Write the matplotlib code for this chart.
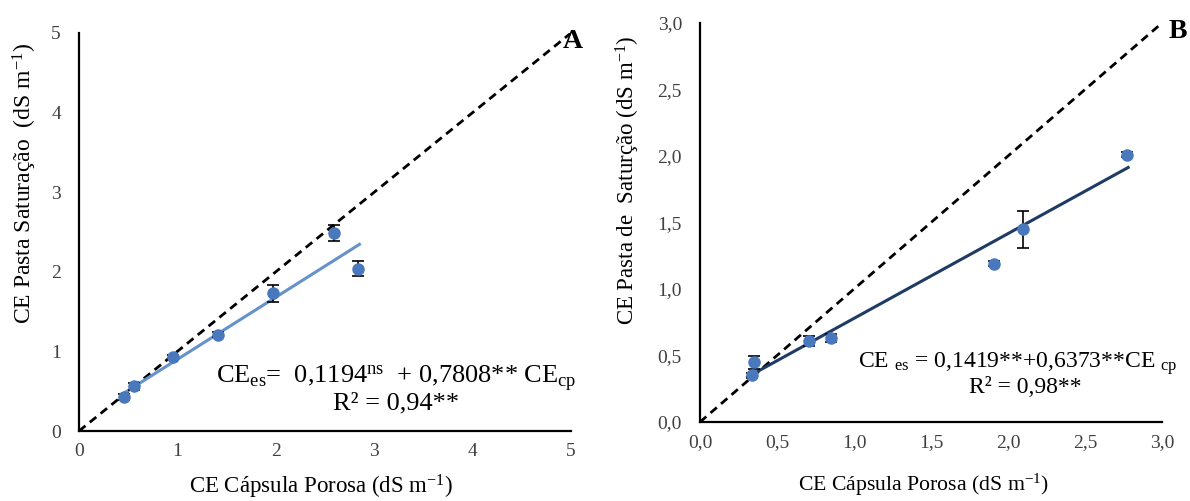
import numpy as np
import matplotlib.pyplot as plt

plt.rcParams['font.family'] = ['Liberation Serif', 'DejaVu Serif']
plt.rcParams['mathtext.fontset'] = 'custom'
plt.rcParams['mathtext.rm'] = 'Liberation Serif'
plt.rcParams['mathtext.it'] = 'Liberation Serif:italic'

# Panel A: porous cup vs saturation paste
cp_a = [0.46, 0.56, 0.96, 1.41, 1.97, 2.59, 2.84]
es_a = [0.43, 0.56, 0.93, 1.21, 1.73, 2.49, 2.04]
err_a = [0.04, 0.04, 0.03, 0.03, 0.11, 0.10, 0.09]
coef_a = (0.1194, 0.7808)

# Panel B
cp_b = [0.35, 0.34, 0.71, 0.85, 1.91, 2.10, 2.77]
es_b = [0.45, 0.35, 0.61, 0.63, 1.19, 1.45, 2.01]
err_b = [0.05, 0.02, 0.04, 0.03, 0.02, 0.14, 0.02]
coef_b = (0.1419, 0.6373)

W, H = 1190, 501
fig = plt.figure(figsize=(W / 100, H / 100), dpi=100)


def px_axes(left, top, right, bottom):
    return fig.add_axes([left / W, 1 - bottom / H, (right - left) / W, (bottom - top) / H])


def style(ax, lim, ticks, labels):
    ax.set_xlim(0, lim)
    ax.set_ylim(0, lim)
    ax.set_xticks(ticks)
    ax.set_yticks(ticks)
    ax.set_xticklabels(labels)
    ax.set_yticklabels(labels)
    for s in ['top', 'right']:
        ax.spines[s].set_visible(False)
    for s in ['left', 'bottom']:
        ax.spines[s].set_linewidth(1.6)
    ax.tick_params(length=0, labelsize=14, colors='#404040')
    ax.tick_params(axis='x', pad=9)
    ax.tick_params(axis='y', pad=13)
    ax.patch.set_alpha(0)


def panel(ax, cp, es, err, coef, lim, line_color):
    ax.plot([0, lim], [0, lim], color='black', lw=2, ls=(0, (3, 2)), zorder=2)
    xf = np.array([min(cp) - 0.03, max(cp) + 0.01])
    ax.plot(xf, coef[0] + coef[1] * xf, color=line_color, lw=2.2, zorder=3)
    ax.errorbar(cp, es, yerr=err, fmt='none', ecolor='black', elinewidth=1.2,
                capsize=4, capthick=1.2, zorder=4)
    ax.plot(cp, es, 'o', color='#4a78bd', ms=8, zorder=5, clip_on=False)


def labels(ax, xlab, ylab, size_x, size_y, xpos, ypos):
    ax.set_xlabel(xlab, fontsize=size_x, va='center')
    ax.set_ylabel(ylab, fontsize=size_y, va='center')
    ax.xaxis.set_label_coords(*xpos)
    ax.yaxis.set_label_coords(*ypos)


unit = r'(dS m$^{\mathregular{-1}}$)'

ax1 = px_axes(79, 33, 571, 431)
style(ax1, 5, range(6), [str(i) for i in range(6)])
panel(ax1, cp_a, es_a, err_a, coef_a, 5, '#6592c9')
labels(ax1, 'CE Cápsula Porosa ' + unit, 'CE Pasta Saturação  ' + unit,
       16.5, 17, (0.492, -0.14), (-0.11, 0.623))
ax1.text(3.22, 0.66, r'CE$_{\mathregular{es}}$=  0,1194$^{\mathregular{ns}}$  + 0,7808** CE$_{\mathregular{cp}}$',
         fontsize=19, ha='center', va='center', clip_on=False)
ax1.text(3.22, 0.35, 'R² = 0,94**', fontsize=19, ha='center', va='center')
fig.text(573 / W, 1 - 42 / H, 'A', fontsize=20, fontweight='bold', ha='center', va='center')

ticks_b = np.arange(0, 3.01, 0.5)
ax2 = px_axes(700, 23, 1162, 422)
style(ax2, 3, ticks_b, [f'{t:.1f}'.replace('.', ',') for t in ticks_b])
panel(ax2, cp_b, es_b, err_b, coef_b, 3, '#1f3b63')
labels(ax2, 'CE Cápsula Porosa ' + unit, 'CE Pasta de  Saturção ' + unit,
       15.7, 16.5, (0.483, -0.158), (-0.156, 0.607))
ax2.text(2.065, 0.436, r'CE $_{\mathregular{es}}$ = 0,1419**+0,6373**CE $_{\mathregular{cp}}$',
         fontsize=17, ha='center', va='center', clip_on=False)
ax2.text(2.11, 0.256, 'R² = 0,98**', fontsize=17, ha='center', va='center')
fig.text(1178 / W, 1 - 32 / H, 'B', fontsize=20, fontweight='bold', ha='center', va='center')

fig.savefig('out.png', dpi=100)
